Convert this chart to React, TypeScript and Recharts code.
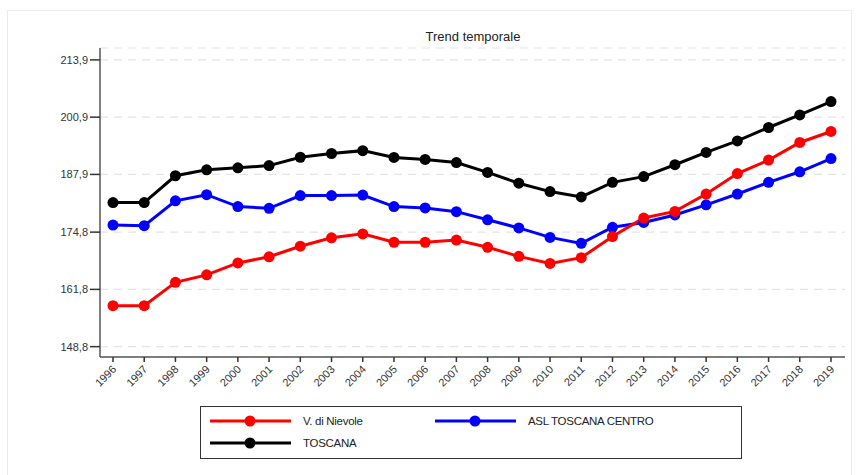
import React from "react";
import { LineChart, Line, XAxis, YAxis, CartesianGrid } from "recharts";

const years = [
  "1996", "1997", "1998", "1999", "2000", "2001", "2002", "2003", "2004", "2005", "2006", "2007",
  "2008", "2009", "2010", "2011", "2012", "2013", "2014", "2015", "2016", "2017", "2018", "2019",
];

const nievole = [
  158.1, 158.1, 163.4, 165.1, 167.8, 169.2, 171.6, 173.5, 174.4, 172.5, 172.5, 173.0,
  171.35, 169.3, 167.7, 169.0, 173.8, 178.0, 179.5, 183.45, 188.1, 191.15, 195.15, 197.65,
];

const aslCentro = [
  176.4, 176.25, 181.9, 183.3, 180.6, 180.2, 183.1, 183.1, 183.2, 180.6, 180.3, 179.45,
  177.6, 175.75, 173.6, 172.25, 175.9, 177.0, 178.7, 181.0, 183.45, 186.1, 188.5, 191.5,
];

const toscana = [
  181.5, 181.5, 187.6, 188.95, 189.4, 189.9, 191.8, 192.65, 193.3, 191.75, 191.3, 190.6,
  188.35, 185.9, 184.0, 182.8, 186.1, 187.4, 190.1, 192.9, 195.5, 198.55, 201.4, 204.45,
];

const yTicks = [148.8, 161.8, 174.8, 187.9, 200.9, 213.9];

const data = years.map((y, i) => ({
  year: y,
  nievole: nievole[i],
  asl: aslCentro[i],
  toscana: toscana[i],
}));

const FONT = "'Liberation Sans', Arial, sans-serif";

function XTick({ x, y, payload }: any) {
  return (
    <text
      x={x + 4}
      y={y + 6}
      textAnchor="end"
      fontSize={11}
      fill="#333"
      fontFamily={FONT}
      transform={`rotate(-45 ${x + 4} ${y + 6})`}
    >
      {payload.value}
    </text>
  );
}

function LegendItem({ color, label }: { color: string; label: string }) {
  return (
    <div style={{ display: "flex", alignItems: "center", height: 22 }}>
      <svg width={84} height={14} style={{ marginRight: 10 }}>
        <line x1={1} y1={7} x2={82} y2={7} stroke={color} strokeWidth={3} />
        <circle cx={41} cy={7} r={5.5} fill={color} />
      </svg>
      <span style={{ fontSize: 11.5, color: "#222", letterSpacing: -0.3 }}>{label}</span>
    </div>
  );
}

export default function App() {
  return (
    <div
      style={{
        position: "absolute",
        left: 0,
        top: 0,
        width: 856,
        height: 475,
        background: "#fff",
        fontFamily: FONT,
      }}
    >
      <div
        style={{
          position: "absolute",
          left: 7,
          top: 10,
          width: 843,
          height: 470,
          border: "1px solid #ececec",
        }}
      />
      <div
        style={{
          position: "absolute",
          left: 0,
          width: 946,
          top: 29,
          textAlign: "center",
          fontSize: 13,
          color: "#222",
        }}
      >
        Trend temporale
      </div>
      <div style={{ position: "absolute", left: 0, top: 0 }}>
        <LineChart
          width={856}
          height={475}
          data={data}
          margin={{ top: 48, right: 11, left: 40, bottom: 78 }}
        >
          <CartesianGrid
            vertical={false}
            stroke="#e4e4e4"
            strokeDasharray="8 6"
            strokeWidth={1.2}
          />
          <XAxis
            dataKey="year"
            interval={0}
            padding={{ left: 13, right: 14 }}
            height={40}
            stroke="#555"
            strokeWidth={1.5}
            tickLine={{ stroke: "#333" }}
            tickSize={5}
            tick={<XTick />}
          />
          <YAxis
            width={60}
            type="number"
            domain={[146.45, 216.6]}
            ticks={yTicks}
            tickFormatter={(v: number) => v.toFixed(1).replace(".", ",")}
            stroke="#555"
            strokeWidth={1.5}
            tickLine={{ stroke: "#333" }}
            tickSize={10}
            tick={{ fontSize: 11, fill: "#333", fontFamily: FONT }}
            allowDataOverflow
          />
          <Line
            dataKey="toscana"
            stroke="#000"
            strokeWidth={3}
            dot={{ r: 5.5, fill: "#000", stroke: "#000", strokeWidth: 0 }}
            isAnimationActive={false}
          />
          <Line
            dataKey="asl"
            stroke="#0000ff"
            strokeWidth={3}
            dot={{ r: 5.5, fill: "#0000ff", stroke: "#0000ff", strokeWidth: 0 }}
            isAnimationActive={false}
          />
          <Line
            dataKey="nievole"
            stroke="#ff0000"
            strokeWidth={3}
            dot={{ r: 5.5, fill: "#ff0000", stroke: "#ff0000", strokeWidth: 0 }}
            isAnimationActive={false}
          />
        </LineChart>
      </div>
      <div
        style={{
          position: "absolute",
          left: 200,
          top: 406,
          width: 540,
          height: 48,
          border: "1.5px solid #333",
          boxSizing: "content-box",
          paddingTop: 3,
        }}
      >
        <div style={{ display: "flex", paddingLeft: 8 }}>
          <div style={{ width: 225 }}>
            <LegendItem color="#ff0000" label="V. di Nievole" />
          </div>
          <LegendItem color="#0000ff" label="ASL TOSCANA CENTRO" />
        </div>
        <div style={{ paddingLeft: 8 }}>
          <LegendItem color="#000" label="TOSCANA" />
        </div>
      </div>
    </div>
  );
}
